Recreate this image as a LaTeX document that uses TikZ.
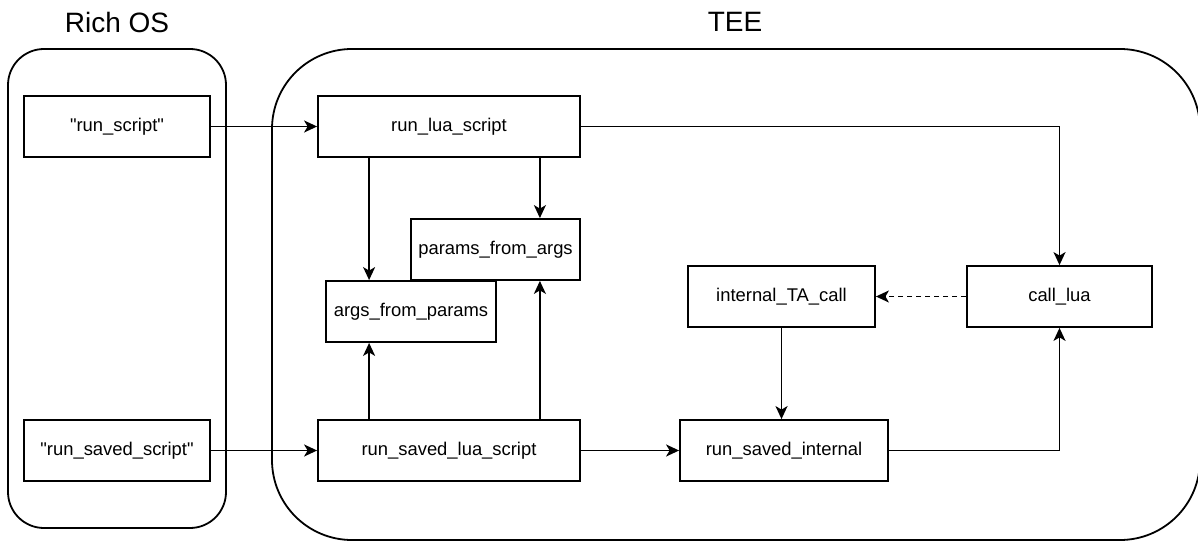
\documentclass[tikz,border=0pt]{standalone}
\usepackage{fontspec}
\setmainfont{Liberation Sans}[Ligatures=TeXOff]
\usetikzlibrary{arrows.meta}
\begin{document}
\begin{tikzpicture}[x=1pt,y=-1pt,
  box/.style={draw, line width=1.8pt, fill=white, inner sep=0pt, font=\fontsize{18.4}{22}\selectfont},
  region/.style={draw, line width=1.8pt},
  title/.style={font=\fontsize{28}{32}\selectfont},
  link/.style={line width=1.8pt, -{Stealth[length=13pt,width=12pt,inset=3.5pt]}},
  weak/.style={link, dash pattern=on 5pt off 4pt}]
\useasboundingbox (0,0) rectangle (1198,545);
% enclosing regions
\draw[region, rounded corners=36pt] (8,49) rectangle (226,528);
\draw[region, rounded corners=80pt] (272,49) rectangle (1200,540);
\node[title] (richos) at (117,22) {Rich OS};
\node[title] (tee) at (735,22) {TEE};
% rich OS entry points
\node[box, minimum width=186pt, minimum height=61pt] (rs) at (117,126.5) {"run\_script"};
\node[box, minimum width=186pt, minimum height=61pt] (rss) at (117,450.5) {"run\_saved\_script"};
% TEE functions
\node[box, minimum width=262pt, minimum height=61pt] (rls) at (449,126.5) {run\_lua\_script};
\node[box, minimum width=262pt, minimum height=61pt] (rsls) at (449,450.5) {run\_saved\_lua\_script};
\node[box, minimum width=169pt, minimum height=61pt] (pfa) at (495.5,249.5) {params\_from\_args};
\node[box, minimum width=170pt, minimum height=61pt] (afp) at (411,311.5) {args\_from\_params};
\node[box, minimum width=187pt, minimum height=61pt] (itc) at (781.5,296.5) {internal\_TA\_call};
\node[box, minimum width=185pt, minimum height=61pt] (cl) at (1059.5,296.5) {call\_lua};
\node[box, minimum width=208pt, minimum height=61pt] (rsi) at (784,450.5) {run\_saved\_internal};
% connectors
\draw[link] (rs) -- (rls);
\draw[link] (rss) -- (rsls);
\draw[link] (rls.south -| afp.north west) ++(44,0) coordinate (a1) -- (a1 |- afp.north);
\draw[link] (rls.south -| pfa.north east) ++(-41,0) coordinate (a2) -- (a2 |- pfa.north);
\draw[link] (rsls.north -| afp.north west) ++(44,0) coordinate (a3) -- (a3 |- afp.south);
\draw[link] (rsls.north -| pfa.north east) ++(-41,0) coordinate (a4) -- (a4 |- pfa.south);
\draw[link] (rls.east) -| (cl.north);
\draw[weak] (cl.west) -- (itc.east);
\draw[link] (itc.south) -- (itc.south |- rsi.north);
\draw[link] (rsls.east) -- (rsi.west);
\draw[link] (rsi.east) -| (cl.south);
\end{tikzpicture}
\end{document}
